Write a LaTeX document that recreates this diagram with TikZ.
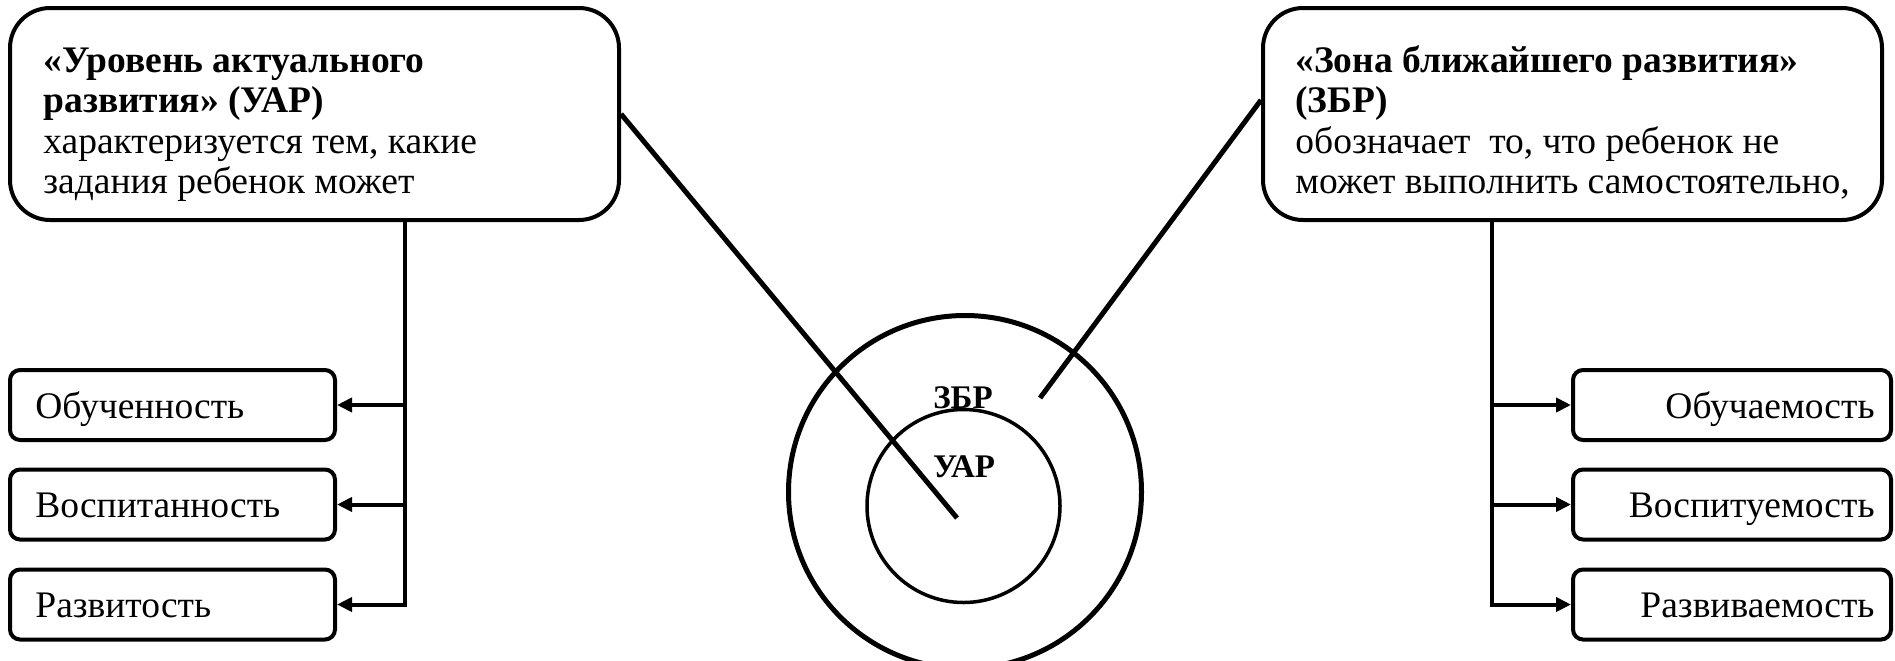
\documentclass[tikz,border=0pt]{standalone}
\usepackage{fontspec}
\setmainfont{Liberation Serif}
\usetikzlibrary{arrows.meta}
\begin{document}
\begin{tikzpicture}[x=0.5pt,y=-0.5pt,
  bigbox/.style={draw,line width=2pt,rounded corners=20pt,minimum height=106pt,inner sep=0pt},
  smallbox/.style={draw,line width=2pt,rounded corners=5pt,minimum height=35pt,inner sep=0pt},
  txt/.style={inner sep=0pt,font=\fontsize{18.75}{20.25}\selectfont},
  btxt/.style={inner sep=0pt,font=\fontsize{18.75}{20.25}\selectfont\bfseries},
  lbl/.style={inner sep=0pt,font=\fontsize{16.5}{18}\selectfont\bfseries},
  conn/.style={line width=2pt},
  diag/.style={line width=2.5pt},
  arr/.style={line width=2pt,-{Triangle[length=7.5pt,width=7pt]}},
]
\useasboundingbox (0,0) rectangle (1895,660);

% big boxes
\node[bigbox,minimum width=304.5pt] (uar) at (314.5,114) {};
\node[bigbox,minimum width=309.5pt] (zbr) at (1572.5,114) {};

\node[btxt,anchor=base west] (uar1) at (43,72) {«Уровень актуального};
\node[btxt,anchor=base west] (uar2) at (43,112) {развития» (УАР)};
\node[txt,anchor=base west] (uar3) at (43,153) {характеризуется тем, какие};
\node[txt,anchor=base west] (uar4) at (43,193) {задания ребенок может};

\node[btxt,anchor=base west] (zbr1) at (1295,72) {«Зона ближайшего развития»};
\node[btxt,anchor=base west] (zbr2) at (1295,112) {(ЗБР)};
\node[txt,anchor=base west] (zbr3) at (1295,153) {обозначает\ \ то, что ребенок не};
\node[txt,anchor=base west] (zbr4) at (1295,193) {может выполнить самостоятельно,};

% small boxes left
\node[smallbox,minimum width=162.5pt] (l1) at (172.5,405) {};
\node[smallbox,minimum width=162.5pt] (l2) at (172.5,504.5) {};
\node[smallbox,minimum width=162.5pt] (l3) at (172.5,604.5) {};
\node[txt,anchor=base west] (l1t) at (35,418) {Обученность};
\node[txt,anchor=base west] (l2t) at (35,517.5) {Воспитанность};
\node[txt,anchor=base west] (l3t) at (35,617.5) {Развитость};

% small boxes right
\node[smallbox,minimum width=159pt] (r1) at (1732,405) {};
\node[smallbox,minimum width=159pt] (r2) at (1732,504.5) {};
\node[smallbox,minimum width=159pt] (r3) at (1732,604.5) {};
\node[txt,anchor=base east] (r1t) at (1875,418) {Обучаемость};
\node[txt,anchor=base east] (r2t) at (1875,517.5) {Воспитуемость};
\node[txt,anchor=base east] (r3t) at (1875,617.5) {Развиваемость};

% connectors left
\coordinate (ltop) at (405,220);
\draw[arr] (ltop) |- (l3.east);
\draw[arr] (ltop |- l1.east) -- (l1.east);
\draw[arr] (ltop |- l2.east) -- (l2.east);

% connectors right
\coordinate (rtop) at (1492,220);
\draw[arr] (rtop) |- (r3.west);
\draw[arr] (rtop |- r1.west) -- (r1.west);
\draw[arr] (rtop |- r2.west) -- (r2.west);

% circles
\node[circle,draw,line width=2.5pt,minimum size=176.5pt,inner sep=0pt] (outer) at (965,492) {};
\node[circle,draw,line width=1.75pt,minimum size=96.5pt,inner sep=0pt] (inner) at (963.5,506) {};
\node[lbl,anchor=base] (zbrl) at (963,408) {ЗБР};
\node[lbl,anchor=base] (uarl) at (964,477) {УАР};

% diagonal lines
\coordinate (uarend) at (957,518);
\coordinate (zbrend) at (1040,398);
\draw[diag] (uar.east) -- (uarend);
\draw[diag] ([yshift=7pt]zbr.west) -- (zbrend);
\end{tikzpicture}
\end{document}
